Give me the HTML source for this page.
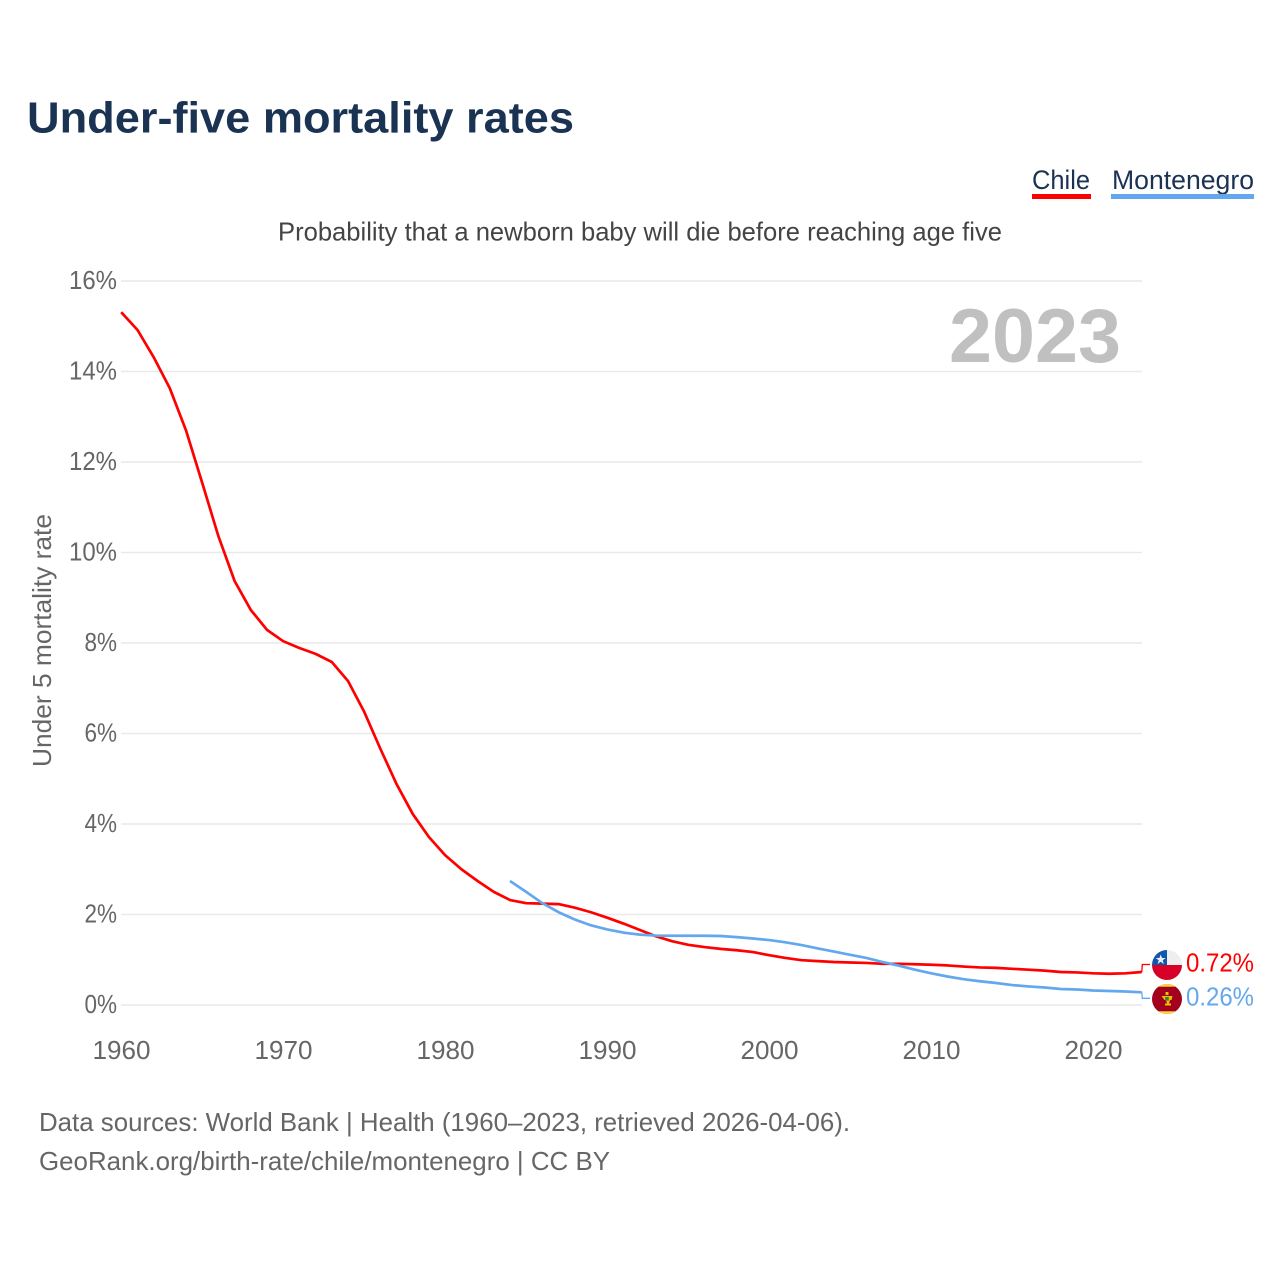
<!DOCTYPE html>
<html lang="en">
<head>
<meta charset="utf-8">
<title>Under-five mortality rates</title>
<style>
html,body{margin:0;padding:0;background:#fff;}
svg{display:block;font-family:"Liberation Sans",sans-serif;}
</style>
</head>
<body>
<svg id="chart" width="1280" height="1280" viewBox="0 0 1280 1280" xmlns="http://www.w3.org/2000/svg">
  <defs>
    <clipPath id="clip-cl"><circle cx="1167" cy="965" r="15"/></clipPath>
    <clipPath id="clip-me"><circle cx="1167" cy="999" r="15"/></clipPath>
  </defs>
  <rect width="1280" height="1280" fill="#fff"/>
  <text x="27" y="132.5" font-size="44" font-weight="700" fill="#1a3353" textLength="547" lengthAdjust="spacingAndGlyphs">Under-five mortality rates</text>
  <g>
    <text x="1032" y="189" font-size="27" fill="#1a3353" textLength="58" lengthAdjust="spacingAndGlyphs">Chile</text>
    <rect x="1032" y="194" width="59" height="5" fill="#ff0000"/>
  </g>
  <g>
    <text x="1112" y="189" font-size="27" fill="#1a3353" textLength="142" lengthAdjust="spacingAndGlyphs">Montenegro</text>
    <rect x="1111" y="194" width="143" height="5" fill="#63a8ee"/>
  </g>
  <text x="278" y="240.5" font-size="26" fill="#444" textLength="724" lengthAdjust="spacingAndGlyphs">Probability that a newborn baby will die before reaching age five</text>
  <g id="grid"></g>
  <g id="yticks"></g>
  <g id="xticks"></g>
  <text transform="translate(51,767) rotate(-90)" font-size="26" fill="#666" textLength="253" lengthAdjust="spacingAndGlyphs">Under 5 mortality rate</text>
  <text x="949" y="362" font-size="76" font-weight="700" fill="#c0c0c0" textLength="172" lengthAdjust="spacingAndGlyphs">2023</text>
  <g id="series"></g>

  <g clip-path="url(#clip-cl)">
    <rect x="1152" y="950" width="30" height="15" fill="#eeeeee"/>
    <rect x="1152" y="950" width="15" height="15" fill="#0f56b0"/>
    <rect x="1152" y="965" width="30" height="15" fill="#d80027"/>
    <polygon points="1160.7,954.5 1162,958 1165.7,958 1162.7,960.3 1163.8,964 1160.7,961.8 1157.6,964 1158.7,960.3 1155.7,958 1159.4,958" fill="#eee"/>
  </g>
  <g clip-path="url(#clip-me)">
    <rect x="1152" y="984" width="30" height="30" fill="#a2001d"/>
    <rect x="1152" y="984" width="30" height="2.7" fill="#ffda44"/>
    <rect x="1152" y="1011.3" width="30" height="2.7" fill="#ffda44"/>
    <path d="M1165.500 992h3v3h-3z M1161.500 996h11l-1 4h-1.500l-1 3.500h2v2h-6v-2h2l-1-3.500h-1.500z" fill="#eac102"/>
    <rect x="1165.2" y="997" width="3.600" height="3.600" fill="#3a7d44"/>
  </g>
  <text x="1186" y="971.5" font-size="26" fill="#ff0000" textLength="68" lengthAdjust="spacingAndGlyphs">0.72%</text>
  <text x="1186" y="1005.5" font-size="26" fill="#63a8ee" textLength="68" lengthAdjust="spacingAndGlyphs">0.26%</text>

  <text x="39" y="1131" font-size="26" fill="#666" textLength="811" lengthAdjust="spacingAndGlyphs">Data sources: World Bank | Health (1960–2023, retrieved 2026-04-06).</text>
  <text x="39" y="1170" font-size="26" fill="#666" textLength="571" lengthAdjust="spacingAndGlyphs">GeoRank.org/birth-rate/chile/montenegro | CC BY</text>
</svg>
<script>
const startYear = 1960;
const endYear = 2023;
const chileStartYear = 1960;
const montenegroStartYear = 1984;
const chileValues = [15.31,14.92,14.32,13.63,12.7,11.54,10.36,9.37,8.73,8.29,8.04,7.89,7.76,7.58,7.16,6.48,5.66,4.88,4.22,3.71,3.31,3.0,2.74,2.5,2.32,2.25,2.24,2.23,2.15,2.05,1.93,1.8,1.66,1.52,1.41,1.33,1.28,1.24,1.21,1.17,1.1,1.04,0.99,0.97,0.95,0.94,0.93,0.91,0.91,0.9,0.89,0.875,0.85,0.83,0.82,0.8,0.78,0.76,0.73,0.72,0.7,0.69,0.7,0.73];
const montenegroValues = [2.74,2.5,2.25,2.05,1.89,1.76,1.67,1.6,1.555,1.535,1.53,1.53,1.53,1.525,1.5,1.47,1.435,1.385,1.325,1.25,1.18,1.11,1.04,0.95,0.87,0.78,0.7,0.63,0.57,0.525,0.486,0.44,0.41,0.387,0.354,0.343,0.32,0.31,0.298,0.28];
const yTickValues = [0,2,4,6,8,10,12,14,16];
const xTickYears = [1960,1970,1980,1990,2000,2010,2020];

const SVG_NS = 'http://www.w3.org/2000/svg';
function xScale(year){ return 121.2 + (year - 1960) * 16.2; }
function yScale(pct){ return 1005 - pct * 45.25; }
function make(tag, attrs, parent){
  const el = document.createElementNS(SVG_NS, tag);
  for (const k in attrs) el.setAttribute(k, attrs[k]);
  parent.appendChild(el);
  return el;
}
const grid = document.getElementById('grid');
const yticks = document.getElementById('yticks');
const xticks = document.getElementById('xticks');
const series = document.getElementById('series');

yTickValues.forEach(function(v){
  const gl = make('line', {x1:121, x2:1142, y1:yScale(v), y2:yScale(v), stroke:'#e9e9e9', 'stroke-width':1.5}, grid);
  
  
  const label = v + '%';
  const t = make('text', {x:117, y:yScale(v) + 8, 'text-anchor':'end', 'font-size':26, fill:'#666', textLength: (String(v).length * 15.5 + 17), lengthAdjust:'spacingAndGlyphs'}, yticks);
  t.textContent = label;
  
  
});
xTickYears.forEach(function(y){
  const t = make('text', {x:xScale(y) + 0.3, y:1059, 'text-anchor':'middle', 'font-size':26, fill:'#666', textLength:58, lengthAdjust:'spacingAndGlyphs'}, xticks);
  t.textContent = String(y);
  
  
});
function linePoints(values, firstYear){
  return values.map(function(v, i){ return xScale(firstYear + i).toFixed(2) + ',' + yScale(v).toFixed(2); }).join(' ');
}
function connectorPoints(values, firstYear, labelOffset){
  const last = values[values.length - 1];
  const x = xScale(firstYear + values.length - 1);
  const y = yScale(last);
  return [x, y, x + 0.5, y + labelOffset, 1150, y + labelOffset].join(',');
}
const chileLine = make('polyline', {points:linePoints(chileValues, chileStartYear), fill:'none', stroke:'#ff0000', 'stroke-width':2.7, 'stroke-linejoin':'round'}, series);


const montenegroLine = make('polyline', {points:linePoints(montenegroValues, montenegroStartYear), fill:'none', stroke:'#63a8ee', 'stroke-width':2.7, 'stroke-linejoin':'round'}, series);


const chileConn = make('polyline', {points:connectorPoints(chileValues, chileStartYear, -7.5), fill:'none', stroke:'#ff0000', 'stroke-width':1.3}, series);


const montenegroConn = make('polyline', {points:connectorPoints(montenegroValues, montenegroStartYear, 6), fill:'none', stroke:'#63a8ee', 'stroke-width':1.3}, series);


</script>
</body>
</html>
